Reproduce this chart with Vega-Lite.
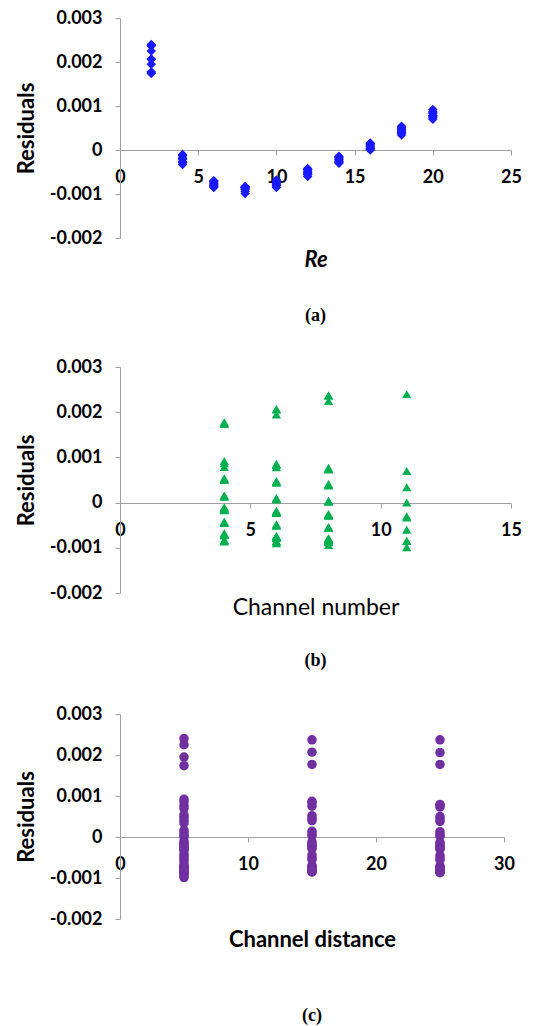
{
  "$schema": "https://vega.github.io/schema/vega-lite/v6.json",
  "background": "white",
  "padding": {"left": 15, "top": 9, "right": 0, "bottom": 0},
  "spacing": 33,
  "config": {
    "view": {"stroke": null},
    "font": "Lato",
    "axis": {
      "grid": false,
      "domainColor": "#a0a0a0",
      "tickColor": "#a0a0a0",
      "domainWidth": 1,
      "tickWidth": 1,
      "tickSize": 5,
      "labelColor": "black",
      "labelFont": "Lato",
      "labelFontWeight": "bold",
      "labelFontSize": 18,
      "labelPadding": 13,
      "titleColor": "black",
      "titleFont": "Lato",
      "titleFontWeight": "bold",
      "titleFontSize": 22
    },
    "title": {"font": "Liberation Serif", "fontSize": 18, "fontWeight": "bold", "color": "black", "orient": "bottom", "anchor": "middle", "frame": "group"}
  },
  "datasets": {
    "res": [
      {"Re":2,"N":4,"D":5,"r":0.00174},{"Re":2,"N":4,"D":15,"r":0.00177},{"Re":2,"N":4,"D":25,"r":0.00177},{"Re":2,"N":6,"D":5,"r":0.00195},{"Re":2,"N":6,"D":15,"r":0.00207},{"Re":2,"N":6,"D":25,"r":0.00206},{"Re":2,"N":8,"D":5,"r":0.00225},{"Re":2,"N":8,"D":15,"r":0.00237},{"Re":2,"N":8,"D":25,"r":0.00237},{"Re":2,"N":11,"D":5,"r":0.0024},
      {"Re":4,"N":4,"D":5,"r":-0.0001},{"Re":4,"N":4,"D":15,"r":-0.00012},{"Re":4,"N":4,"D":25,"r":-0.00013},{"Re":4,"N":6,"D":5,"r":-0.00018},{"Re":4,"N":6,"D":15,"r":-0.0002},{"Re":4,"N":6,"D":25,"r":-0.00021},{"Re":4,"N":8,"D":5,"r":-0.00026},{"Re":4,"N":8,"D":15,"r":-0.00028},{"Re":4,"N":8,"D":25,"r":-0.00029},{"Re":4,"N":11,"D":5,"r":-0.00033},
      {"Re":6,"N":4,"D":5,"r":-0.0007},{"Re":6,"N":4,"D":15,"r":-0.00071},{"Re":6,"N":4,"D":25,"r":-0.00072},{"Re":6,"N":6,"D":5,"r":-0.00075},{"Re":6,"N":6,"D":15,"r":-0.00077},{"Re":6,"N":6,"D":25,"r":-0.00078},{"Re":6,"N":8,"D":5,"r":-0.0008},{"Re":6,"N":8,"D":15,"r":-0.00082},{"Re":6,"N":8,"D":25,"r":-0.00083},{"Re":6,"N":11,"D":5,"r":-0.00085},
      {"Re":8,"N":4,"D":5,"r":-0.00086},{"Re":8,"N":4,"D":15,"r":-0.00083},{"Re":8,"N":4,"D":25,"r":-0.00084},{"Re":8,"N":6,"D":5,"r":-0.0009},{"Re":8,"N":6,"D":15,"r":-0.00085},{"Re":8,"N":6,"D":25,"r":-0.00086},{"Re":8,"N":8,"D":5,"r":-0.00094},{"Re":8,"N":8,"D":15,"r":-0.00085},{"Re":8,"N":8,"D":25,"r":-0.00087},{"Re":8,"N":11,"D":5,"r":-0.00099},
      {"Re":10,"N":4,"D":5,"r":-0.00068},{"Re":10,"N":4,"D":15,"r":-0.0007},{"Re":10,"N":4,"D":25,"r":-0.00071},{"Re":10,"N":6,"D":5,"r":-0.00074},{"Re":10,"N":6,"D":15,"r":-0.00075},{"Re":10,"N":6,"D":25,"r":-0.00076},{"Re":10,"N":8,"D":5,"r":-0.00079},{"Re":10,"N":8,"D":15,"r":-0.0008},{"Re":10,"N":8,"D":25,"r":-0.00081},{"Re":10,"N":11,"D":5,"r":-0.00085},
      {"Re":12,"N":4,"D":5,"r":-0.00042},{"Re":12,"N":4,"D":15,"r":-0.00044},{"Re":12,"N":4,"D":25,"r":-0.00045},{"Re":12,"N":6,"D":5,"r":-0.00048},{"Re":12,"N":6,"D":15,"r":-0.0005},{"Re":12,"N":6,"D":25,"r":-0.00051},{"Re":12,"N":8,"D":5,"r":-0.00054},{"Re":12,"N":8,"D":15,"r":-0.00055},{"Re":12,"N":8,"D":25,"r":-0.00056},{"Re":12,"N":11,"D":5,"r":-0.0006},
      {"Re":14,"N":4,"D":5,"r":-0.00014},{"Re":14,"N":4,"D":15,"r":-0.00016},{"Re":14,"N":4,"D":25,"r":-0.00017},{"Re":14,"N":6,"D":5,"r":-0.0002},{"Re":14,"N":6,"D":15,"r":-0.00022},{"Re":14,"N":6,"D":25,"r":-0.00023},{"Re":14,"N":8,"D":5,"r":-0.00026},{"Re":14,"N":8,"D":15,"r":-0.00027},{"Re":14,"N":8,"D":25,"r":-0.00028},{"Re":14,"N":11,"D":5,"r":-0.0003},
      {"Re":16,"N":4,"D":5,"r":0.00016},{"Re":16,"N":4,"D":15,"r":0.00014},{"Re":16,"N":4,"D":25,"r":0.00013},{"Re":16,"N":6,"D":5,"r":0.0001},{"Re":16,"N":6,"D":15,"r":0.00008},{"Re":16,"N":6,"D":25,"r":0.00007},{"Re":16,"N":8,"D":5,"r":0.00004},{"Re":16,"N":8,"D":15,"r":0.00003},{"Re":16,"N":8,"D":25,"r":0.00002},{"Re":16,"N":11,"D":5,"r":0.0},
      {"Re":18,"N":4,"D":5,"r":0.00054},{"Re":18,"N":4,"D":15,"r":0.00052},{"Re":18,"N":4,"D":25,"r":0.0005},{"Re":18,"N":6,"D":5,"r":0.00048},{"Re":18,"N":6,"D":15,"r":0.00046},{"Re":18,"N":6,"D":25,"r":0.00044},{"Re":18,"N":8,"D":5,"r":0.00041},{"Re":18,"N":8,"D":15,"r":0.0004},{"Re":18,"N":8,"D":25,"r":0.00038},{"Re":18,"N":11,"D":5,"r":0.00034},
      {"Re":20,"N":4,"D":5,"r":0.00092},{"Re":20,"N":4,"D":15,"r":0.00087},{"Re":20,"N":4,"D":25,"r":0.00079},{"Re":20,"N":6,"D":5,"r":0.00086},{"Re":20,"N":6,"D":15,"r":0.00083},{"Re":20,"N":6,"D":25,"r":0.00078},{"Re":20,"N":8,"D":5,"r":0.00077},{"Re":20,"N":8,"D":15,"r":0.00075},{"Re":20,"N":8,"D":25,"r":0.00073},{"Re":20,"N":11,"D":5,"r":0.0007}
    ]
  },
  "vconcat": [
    {
      "width": 391,
      "height": 220,
      "data": {"name": "res"},
      "title": {"text": "(a)", "offset": 37},
      "mark": {"type": "point", "shape": "diamond", "filled": true, "color": "#1a1aff", "opacity": 1, "size": 90},
      "encoding": {
        "x": {"field": "Re", "type": "quantitative", "scale": {"domain": [0, 25], "nice": false, "zero": false},
              "axis": {"values": [0, 5, 10, 15, 20, 25], "offset": -88, "title": "Re", "titleFontStyle": "italic", "titlePadding": 63, "labelFlush": false}},
        "y": {"field": "r", "type": "quantitative", "scale": {"domain": [-0.002, 0.003], "nice": false},
              "axis": {"values": [-0.002, -0.001, 0, 0.001, 0.002, 0.003], "title": "Residuals", "titlePadding": 11,
                       "labelExpr": "datum.value == 0 ? '0' : (datum.value < 0 ? '-' + format(-datum.value, '.3f') : format(datum.value, '.3f'))"}}
      }
    },
    {
      "width": 391,
      "height": 226,
      "data": {"name": "res"},
      "title": {"text": "(b)", "offset": 33, "subtitle": " ", "subtitleFontSize": 2, "subtitlePadding": 0},
      "mark": {"type": "point", "shape": "triangle-up", "filled": true, "color": "#00b050", "opacity": 1, "size": 85},
      "encoding": {
        "x": {"field": "N", "type": "quantitative", "scale": {"domain": [0, 15], "nice": false, "zero": false},
              "axis": {"values": [0, 5, 10, 15], "offset": -90, "title": "Channel number", "titleFontWeight": "normal", "titleFontSize": 23, "titlePadding": 57, "labelFlush": false}},
        "y": {"field": "r", "type": "quantitative", "scale": {"domain": [-0.002, 0.003], "nice": false},
              "axis": {"values": [-0.002, -0.001, 0, 0.001, 0.002, 0.003], "title": "Residuals", "titlePadding": 11,
                       "labelExpr": "datum.value == 0 ? '0' : (datum.value < 0 ? '-' + format(-datum.value, '.3f') : format(datum.value, '.3f'))"}}
      }
    },
    {
      "width": 384,
      "height": 205,
      "data": {"name": "res"},
      "title": {"text": "(c)", "offset": 57},
      "mark": {"type": "circle", "color": "#7030a0", "opacity": 1, "size": 90},
      "encoding": {
        "x": {"field": "D", "type": "quantitative", "scale": {"domain": [0, 30], "nice": false, "zero": false},
              "axis": {"values": [0, 10, 20, 30], "offset": -82, "title": "Channel distance", "titlePadding": 56, "labelFlush": false}},
        "y": {"field": "r", "type": "quantitative", "scale": {"domain": [-0.002, 0.003], "nice": false},
              "axis": {"values": [-0.002, -0.001, 0, 0.001, 0.002, 0.003], "title": "Residuals", "titlePadding": 11,
                       "labelExpr": "datum.value == 0 ? '0' : (datum.value < 0 ? '-' + format(-datum.value, '.3f') : format(datum.value, '.3f'))"}}
      }
    }
  ]
}
